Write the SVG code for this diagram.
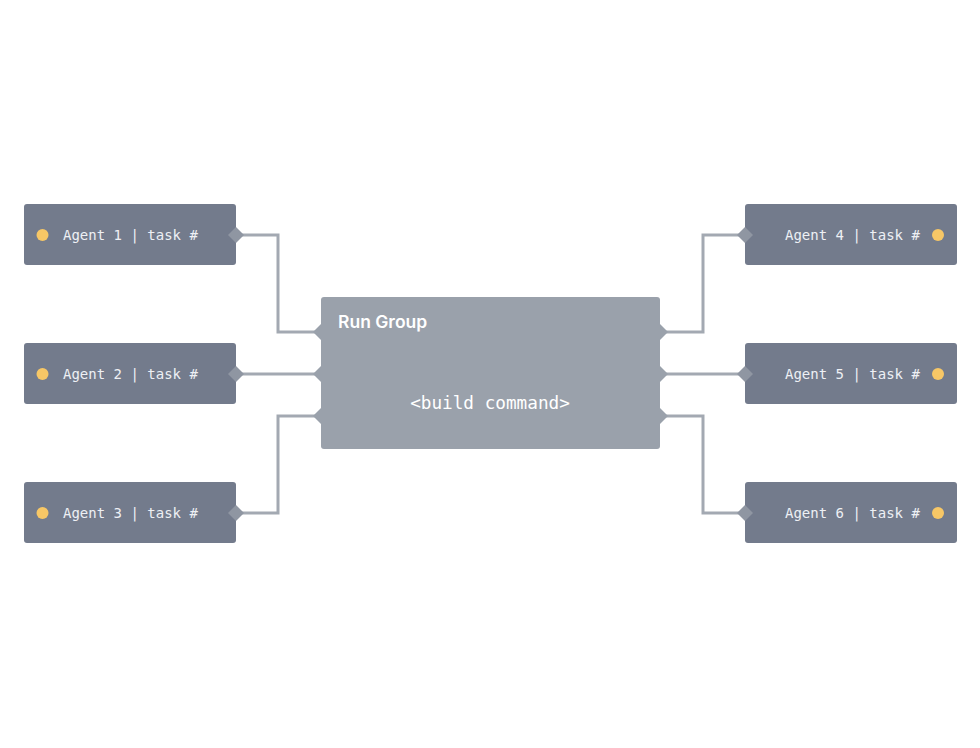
<svg xmlns="http://www.w3.org/2000/svg" width="980" height="748" viewBox="0 0 980 748">
<style>
.agent{fill:#737b8c}
.dot{fill:#f7c766}
.lbl{font-family:"DejaVu Sans Mono","Liberation Mono",monospace;font-size:14px;fill:#eef0f4}
.port{fill:#8f96a2}
.cport{fill:#9aa1ab}
.wire{fill:none;stroke:#a3a9b2;stroke-width:3}
</style>
<rect width="980" height="748" fill="#ffffff"/>
<g id="connectors">
<path class="wire" d="M236 235 H278 V332 H321"/>
<path class="wire" d="M236 374 H321"/>
<path class="wire" d="M236 513 H278 V416 H321"/>
<path class="wire" d="M745 235 H703 V332 H660"/>
<path class="wire" d="M745 374 H660"/>
<path class="wire" d="M745 513 H703 V416 H660"/>
</g>
<g id="run-group">
<rect x="321" y="297" width="339" height="152" rx="3" fill="#9aa1ab"/>
<path class="cport" d="M321 324 L329 332 L321 340 L313 332 Z"/>
<path class="cport" d="M321 366 L329 374 L321 382 L313 374 Z"/>
<path class="cport" d="M321 408 L329 416 L321 424 L313 416 Z"/>
<path class="cport" d="M660 324 L668 332 L660 340 L652 332 Z"/>
<path class="cport" d="M660 366 L668 374 L660 382 L652 374 Z"/>
<path class="cport" d="M660 408 L668 416 L660 424 L652 416 Z"/>
<text x="338" y="328" font-family="Inter,'Liberation Sans',sans-serif" font-size="17.5" font-weight="600" fill="#ffffff">Run Group</text>
<text x="490" y="409" text-anchor="middle" font-family="'DejaVu Sans Mono','Liberation Mono',monospace" font-size="17.7" fill="#ffffff">&lt;build command&gt;</text>
</g>
<g id="agent1">
<rect class="agent" x="24" y="204" width="212" height="61" rx="3"/>
<circle class="dot" cx="42.5" cy="235" r="6"/>
<text class="lbl" x="63" y="240">Agent 1 | task #</text>
<path class="port" d="M236 227 L244 235 L236 243 L228 235 Z"/>
</g>
<g id="agent2">
<rect class="agent" x="24" y="343" width="212" height="61" rx="3"/>
<circle class="dot" cx="42.5" cy="374" r="6"/>
<text class="lbl" x="63" y="379">Agent 2 | task #</text>
<path class="port" d="M236 366 L244 374 L236 382 L228 374 Z"/>
</g>
<g id="agent3">
<rect class="agent" x="24" y="482" width="212" height="61" rx="3"/>
<circle class="dot" cx="42.5" cy="513" r="6"/>
<text class="lbl" x="63" y="518">Agent 3 | task #</text>
<path class="port" d="M236 505 L244 513 L236 521 L228 513 Z"/>
</g>
<g id="agent4">
<rect class="agent" x="745" y="204" width="212" height="61" rx="3"/>
<circle class="dot" cx="938" cy="235" r="6"/>
<text class="lbl" x="785" y="240">Agent 4 | task #</text>
<path class="port" d="M745 227 L753 235 L745 243 L737 235 Z"/>
</g>
<g id="agent5">
<rect class="agent" x="745" y="343" width="212" height="61" rx="3"/>
<circle class="dot" cx="938" cy="374" r="6"/>
<text class="lbl" x="785" y="379">Agent 5 | task #</text>
<path class="port" d="M745 366 L753 374 L745 382 L737 374 Z"/>
</g>
<g id="agent6">
<rect class="agent" x="745" y="482" width="212" height="61" rx="3"/>
<circle class="dot" cx="938" cy="513" r="6"/>
<text class="lbl" x="785" y="518">Agent 6 | task #</text>
<path class="port" d="M745 505 L753 513 L745 521 L737 513 Z"/>
</g>
</svg>
